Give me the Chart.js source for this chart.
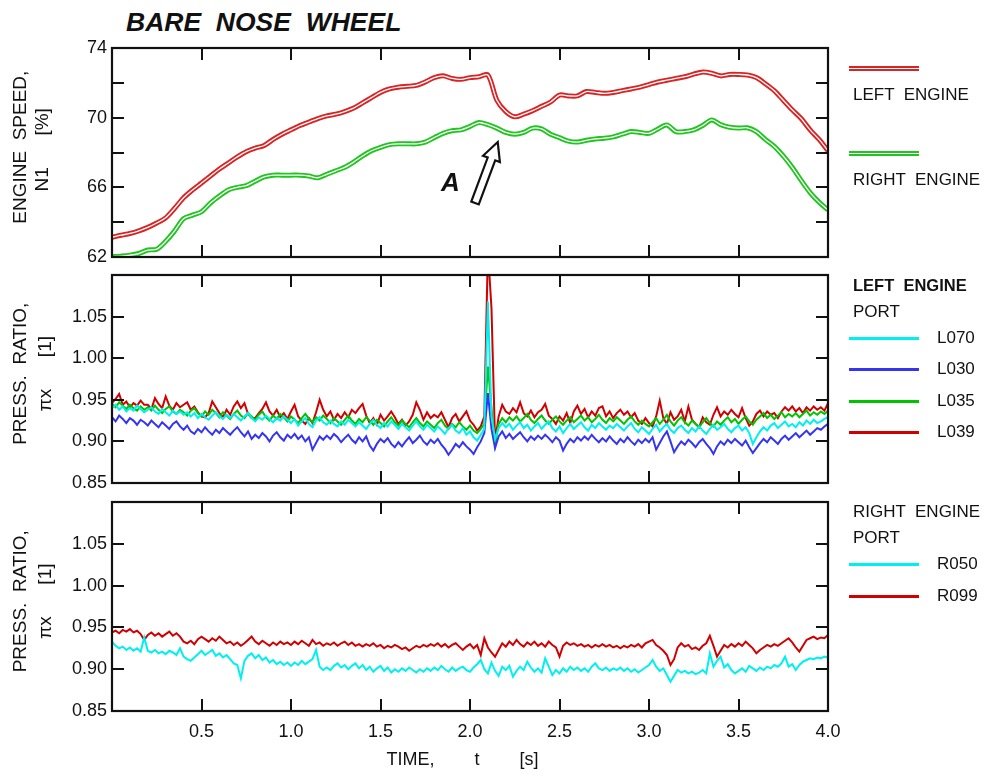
<!DOCTYPE html>
<html>
<head>
<meta charset="utf-8">
<title>Bare nose wheel</title>
<script src="https://cdn.jsdelivr.net/npm/chart.js@4.4.1/dist/chart.umd.min.js"></script>
<style>
  html, body { margin: 0; padding: 0; background: #fff; }
  #wrap { position: relative; width: 987px; height: 776px; overflow: hidden;
          font-family: 'Liberation Sans', Arial, sans-serif; color: #111; }
  #wrap canvas { position: absolute; left: 0; top: 0; }
  .txt { position: absolute; white-space: pre; line-height: 20px; font-size: 17px; }
  .sw { position: absolute; width: 70px; }
</style>
</head>
<body>
<div id="wrap">
  <div class="txt" style="left:126px; top:7px; line-height:30px; font-size:26.5px; font-weight:bold; font-style:italic;">BARE  NOSE  WHEEL</div>
  <canvas id="n1" width="987" height="776"></canvas>
  <canvas id="left" width="987" height="776"></canvas>
  <canvas id="right" width="987" height="776"></canvas>
</div>
<script>
// ---- data ----
const N1_STEP = 0.05;   // s between samples of engine speed
const P_STEP = 0.02;    // s between samples of pressure ratio

const n1Left = [
  63.13, 63.25, 63.35, 63.5, 63.7, 63.95, 64.25, 64.8, 65.4, 65.85,
  66.25, 66.65, 67.05, 67.4, 67.75, 68.05, 68.25, 68.4, 68.75, 69.05,
  69.3, 69.55, 69.75, 69.95, 70.1, 70.2, 70.35, 70.55, 70.85, 71.15,
  71.45, 71.65, 71.75, 71.8, 71.85, 72.05, 72.3, 72.4, 72.25, 72.2,
  72.3, 72.35, 72.45, 71.0, 70.35, 70.05, 70.2, 70.4, 70.65, 70.9,
  71.3, 71.25, 71.25, 71.5, 71.45, 71.4, 71.45, 71.55, 71.65, 71.75,
  71.9, 72.05, 72.15, 72.25, 72.35, 72.5, 72.62, 72.55, 72.4, 72.48,
  72.48, 72.45, 72.3, 71.95, 71.55, 71.0, 70.45, 69.95, 69.3, 68.75,
  68.1
];
const n1Right = [
  62.02, 62.05, 62.1, 62.2, 62.4, 62.45, 62.9, 63.5, 64.2, 64.4,
  64.6, 65.1, 65.5, 65.85, 66.0, 66.1, 66.35, 66.6, 66.7, 66.7,
  66.7, 66.7, 66.65, 66.55, 66.75, 66.95, 67.15, 67.45, 67.8, 68.1,
  68.3, 68.45, 68.5, 68.5, 68.5, 68.6, 68.85, 69.1, 69.25, 69.3,
  69.5, 69.72, 69.6, 69.4, 69.15, 69.05, 69.15, 69.4, 69.35, 69.05,
  68.85, 68.65, 68.6, 68.7, 68.78, 68.82, 68.9, 69.05, 69.2, 69.15,
  69.1, 69.35, 69.58, 69.2, 69.2, 69.3, 69.55, 69.87, 69.6, 69.45,
  69.4, 69.42, 69.2, 68.75, 68.35, 67.8, 67.15, 66.4, 65.7, 65.15,
  64.7
];

const pL070 = [
  0.940, 0.944, 0.938, 0.942, 0.936, 0.940, 0.937, 0.943, 0.939, 0.935,
  0.938, 0.941, 0.936, 0.933, 0.939, 0.935, 0.931, 0.937, 0.933, 0.936,
  0.932, 0.935, 0.930, 0.934, 0.928, 0.933, 0.929, 0.926, 0.931, 0.935,
  0.930, 0.927, 0.932, 0.928, 0.933, 0.929, 0.925, 0.930, 0.934, 0.928,
  0.924, 0.929, 0.926, 0.931, 0.927, 0.923, 0.928, 0.925, 0.930, 0.926,
  0.922, 0.927, 0.919, 0.924, 0.928, 0.921, 0.917, 0.925, 0.929, 0.923,
  0.920, 0.925, 0.921, 0.918, 0.924, 0.920, 0.926, 0.922, 0.918, 0.923,
  0.919, 0.915, 0.921, 0.926, 0.920, 0.916, 0.922, 0.918, 0.924, 0.920,
  0.915, 0.921, 0.917, 0.913, 0.919, 0.924, 0.918, 0.914, 0.920, 0.916,
  0.912, 0.918, 0.914, 0.909, 0.916, 0.920, 0.913, 0.910, 0.916, 0.908,
  0.912, 0.905, 0.901, 0.908, 0.915, 1.068, 0.930, 0.903, 0.916, 0.922,
  0.917, 0.921, 0.914, 0.919, 0.923, 0.916, 0.920, 0.913, 0.918, 0.922,
  0.915, 0.920, 0.924, 0.916, 0.912, 0.918, 0.910, 0.916, 0.921, 0.915,
  0.919, 0.923, 0.917, 0.913, 0.920, 0.916, 0.922, 0.918, 0.914, 0.919,
  0.916, 0.921, 0.917, 0.913, 0.918, 0.922, 0.915, 0.911, 0.917, 0.913,
  0.909, 0.915, 0.920, 0.912, 0.917, 0.921, 0.914, 0.910, 0.916, 0.919,
  0.914, 0.910, 0.916, 0.912, 0.918, 0.913, 0.909, 0.915, 0.920, 0.914,
  0.917, 0.921, 0.915, 0.911, 0.916, 0.919, 0.913, 0.917, 0.910, 0.897,
  0.905, 0.912, 0.917, 0.913, 0.919, 0.922, 0.916, 0.920, 0.924, 0.918,
  0.921, 0.917, 0.923, 0.919, 0.925, 0.921, 0.926, 0.922, 0.924, 0.927,
  0.929
];
const pL030 = [
  0.929, 0.924, 0.931, 0.927, 0.922, 0.928, 0.925, 0.920, 0.926, 0.923,
  0.919, 0.925, 0.921, 0.917, 0.923, 0.919, 0.915, 0.921, 0.924, 0.918,
  0.914, 0.919, 0.912, 0.909, 0.915, 0.911, 0.917, 0.912, 0.908, 0.914,
  0.910, 0.916, 0.912, 0.908, 0.913, 0.917, 0.911, 0.906, 0.912, 0.903,
  0.908, 0.904, 0.910, 0.906, 0.900, 0.907, 0.911, 0.905, 0.901, 0.908,
  0.904, 0.909, 0.903, 0.907, 0.900, 0.905, 0.890, 0.898, 0.906, 0.902,
  0.907, 0.903, 0.909, 0.905, 0.899, 0.904, 0.908, 0.902, 0.898, 0.905,
  0.900, 0.906, 0.895, 0.889, 0.897, 0.903, 0.899, 0.904, 0.897, 0.893,
  0.899, 0.894, 0.900, 0.905, 0.898, 0.902, 0.907, 0.900, 0.896, 0.902,
  0.898, 0.903, 0.896, 0.891, 0.884, 0.890, 0.897, 0.893, 0.899, 0.894,
  0.890, 0.885, 0.893, 0.900, 0.910, 0.958, 0.915, 0.892, 0.906, 0.912,
  0.904, 0.909, 0.903, 0.907, 0.911, 0.905, 0.900, 0.906, 0.902, 0.907,
  0.903, 0.908, 0.904, 0.899, 0.905, 0.901, 0.889, 0.897, 0.903, 0.899,
  0.905, 0.901, 0.906, 0.902, 0.908, 0.903, 0.899, 0.904, 0.900, 0.906,
  0.901, 0.897, 0.903, 0.899, 0.905, 0.900, 0.896, 0.902, 0.898, 0.903,
  0.899, 0.905, 0.890, 0.898, 0.906, 0.912, 0.900, 0.887, 0.894, 0.900,
  0.896, 0.902, 0.898, 0.893, 0.899, 0.903, 0.897, 0.892, 0.885, 0.894,
  0.900, 0.896, 0.902, 0.898, 0.903, 0.899, 0.895, 0.901, 0.893, 0.886,
  0.892, 0.898, 0.903, 0.899, 0.905, 0.901, 0.897, 0.903, 0.907, 0.902,
  0.906, 0.910, 0.905, 0.909, 0.913, 0.908, 0.912, 0.916, 0.914, 0.918,
  0.921
];
const pL035 = [
  0.945, 0.941, 0.947, 0.943, 0.939, 0.944, 0.940, 0.937, 0.942, 0.938,
  0.941, 0.937, 0.943, 0.938, 0.934, 0.939, 0.942, 0.936, 0.933, 0.938,
  0.935, 0.931, 0.937, 0.940, 0.934, 0.930, 0.936, 0.932, 0.938, 0.934,
  0.929, 0.935, 0.931, 0.927, 0.933, 0.937, 0.931, 0.928, 0.934, 0.930,
  0.926, 0.932, 0.936, 0.929, 0.925, 0.931, 0.927, 0.933, 0.929, 0.924,
  0.930, 0.926, 0.922, 0.928, 0.933, 0.927, 0.923, 0.929, 0.925, 0.931,
  0.927, 0.922, 0.928, 0.924, 0.920, 0.926, 0.931, 0.925, 0.921, 0.927,
  0.923, 0.929, 0.925, 0.920, 0.926, 0.922, 0.918, 0.924, 0.929, 0.923,
  0.919, 0.925, 0.921, 0.917, 0.923, 0.928, 0.922, 0.918, 0.924, 0.920,
  0.916, 0.922, 0.926, 0.919, 0.915, 0.921, 0.917, 0.923, 0.918, 0.914,
  0.919, 0.913, 0.910, 0.915, 0.921, 0.990, 0.940, 0.896, 0.921, 0.928,
  0.923, 0.929, 0.925, 0.930, 0.924, 0.928, 0.933, 0.926, 0.922, 0.927,
  0.931, 0.925, 0.921, 0.926, 0.930, 0.924, 0.920, 0.925, 0.929, 0.923,
  0.927, 0.931, 0.925, 0.929, 0.923, 0.927, 0.932, 0.926, 0.922, 0.928,
  0.924, 0.929, 0.925, 0.921, 0.926, 0.930, 0.924, 0.920, 0.925, 0.921,
  0.918, 0.923, 0.928, 0.921, 0.926, 0.932, 0.924, 0.919, 0.925, 0.929,
  0.923, 0.919, 0.925, 0.921, 0.917, 0.923, 0.928, 0.922, 0.918, 0.924,
  0.920, 0.925, 0.929, 0.923, 0.927, 0.921, 0.926, 0.930, 0.924, 0.920,
  0.926, 0.930, 0.934, 0.928, 0.932, 0.927, 0.931, 0.935, 0.929, 0.933,
  0.930, 0.934, 0.929, 0.933, 0.937, 0.931, 0.935, 0.932, 0.936, 0.933,
  0.937
];
const pL039 = [
  0.946, 0.951, 0.957, 0.944, 0.948, 0.941, 0.946, 0.943, 0.949, 0.944,
  0.944, 0.939, 0.952, 0.945, 0.940, 0.954, 0.943, 0.938, 0.946, 0.941,
  0.944, 0.947, 0.938, 0.942, 0.935, 0.930, 0.929, 0.934, 0.948, 0.941,
  0.934, 0.929, 0.938, 0.932, 0.942, 0.948, 0.940, 0.946, 0.933, 0.928,
  0.928, 0.934, 0.939, 0.947, 0.936, 0.931, 0.938, 0.929, 0.934, 0.927,
  0.936, 0.944, 0.930, 0.925, 0.921, 0.928, 0.922, 0.935, 0.950, 0.938,
  0.930, 0.936, 0.926, 0.933, 0.928, 0.935, 0.929, 0.938, 0.934, 0.940,
  0.945, 0.931, 0.922, 0.928, 0.920, 0.932, 0.925, 0.930, 0.936, 0.929,
  0.921, 0.926, 0.919, 0.924, 0.932, 0.947, 0.938, 0.926, 0.935, 0.928,
  0.932, 0.929, 0.935, 0.926, 0.917, 0.928, 0.933, 0.924, 0.930, 0.936,
  0.925, 0.920, 0.913, 0.918, 0.930, 1.130, 1.060, 0.900, 0.930, 0.944,
  0.936, 0.933, 0.940, 0.935, 0.947, 0.934, 0.930, 0.937, 0.929, 0.935,
  0.938, 0.945, 0.931, 0.927, 0.921, 0.930, 0.925, 0.934, 0.922, 0.936,
  0.943, 0.933, 0.939, 0.929, 0.936, 0.931, 0.940, 0.942, 0.930, 0.936,
  0.928, 0.934, 0.938, 0.932, 0.936, 0.929, 0.934, 0.925, 0.921, 0.928,
  0.922, 0.918, 0.930, 0.949, 0.928, 0.921, 0.935, 0.926, 0.930, 0.938,
  0.924, 0.942, 0.926, 0.921, 0.917, 0.929, 0.923, 0.920, 0.932, 0.941,
  0.930, 0.936, 0.932, 0.938, 0.933, 0.929, 0.940, 0.928, 0.919, 0.924,
  0.933, 0.937, 0.930, 0.936, 0.932, 0.934, 0.928, 0.936, 0.941, 0.937,
  0.942, 0.936, 0.940, 0.934, 0.941, 0.937, 0.942, 0.938, 0.941, 0.937,
  0.946
];
const pR050 = [
  0.933, 0.928, 0.925, 0.927, 0.923, 0.926, 0.922, 0.925, 0.921, 0.938,
  0.922, 0.920, 0.923, 0.919, 0.921, 0.918, 0.922, 0.920, 0.917, 0.925,
  0.915, 0.912, 0.910, 0.914, 0.918, 0.922, 0.917, 0.920, 0.923, 0.916,
  0.919, 0.914, 0.917, 0.912, 0.907, 0.905, 0.889, 0.910, 0.916, 0.919,
  0.913, 0.917, 0.911, 0.914, 0.908, 0.911, 0.906, 0.909, 0.905, 0.908,
  0.904, 0.908, 0.905, 0.910, 0.906, 0.909, 0.912, 0.923, 0.903, 0.899,
  0.902, 0.899, 0.904, 0.907, 0.902, 0.905, 0.900, 0.904, 0.907, 0.901,
  0.905, 0.899, 0.903, 0.897, 0.901, 0.904, 0.898, 0.902, 0.896, 0.900,
  0.897, 0.901, 0.898, 0.902, 0.899, 0.896, 0.900, 0.897, 0.901, 0.898,
  0.902, 0.899, 0.904, 0.900, 0.897, 0.902, 0.898, 0.901, 0.903, 0.899,
  0.897, 0.902, 0.906, 0.911, 0.900, 0.895, 0.908, 0.898, 0.892, 0.903,
  0.899, 0.904, 0.891, 0.898, 0.903, 0.899, 0.909, 0.902, 0.897, 0.901,
  0.896, 0.913, 0.903, 0.893, 0.899, 0.895, 0.901, 0.897, 0.903, 0.899,
  0.902, 0.898, 0.901, 0.897, 0.903, 0.907, 0.901, 0.899, 0.902, 0.898,
  0.901, 0.899, 0.902, 0.898, 0.901, 0.897, 0.900, 0.896, 0.899, 0.902,
  0.905, 0.911, 0.903, 0.898, 0.901, 0.893, 0.885, 0.892, 0.899, 0.896,
  0.898, 0.895, 0.897, 0.894, 0.896, 0.899, 0.895, 0.919, 0.903, 0.910,
  0.915, 0.902, 0.906, 0.899, 0.895, 0.898, 0.901, 0.897, 0.904, 0.901,
  0.898, 0.902, 0.899, 0.903, 0.901, 0.905, 0.903, 0.907, 0.915, 0.903,
  0.906, 0.899, 0.905, 0.909, 0.911, 0.913, 0.912, 0.914, 0.913, 0.915,
  0.914
];
const pR099 = [
  0.944, 0.946, 0.943, 0.947, 0.945, 0.948, 0.944, 0.946, 0.942, 0.935,
  0.941, 0.944, 0.940, 0.943, 0.939, 0.942, 0.945, 0.940, 0.943, 0.939,
  0.933, 0.931, 0.934, 0.930, 0.936, 0.939, 0.936, 0.933, 0.937, 0.934,
  0.939, 0.935, 0.931, 0.933, 0.929, 0.932, 0.928, 0.931, 0.935, 0.939,
  0.933, 0.930, 0.934, 0.931, 0.928, 0.932, 0.929, 0.933, 0.930, 0.932,
  0.929, 0.933, 0.930, 0.934, 0.931, 0.928, 0.935, 0.930, 0.932, 0.928,
  0.931, 0.929, 0.932, 0.928, 0.931, 0.933, 0.929, 0.932, 0.928, 0.930,
  0.927, 0.930, 0.928, 0.931, 0.927, 0.929, 0.925, 0.928, 0.926, 0.929,
  0.927, 0.924, 0.926, 0.922, 0.925, 0.928, 0.926, 0.929, 0.927, 0.930,
  0.928, 0.931, 0.927, 0.930, 0.926, 0.929, 0.931, 0.927, 0.923, 0.927,
  0.930, 0.925, 0.929, 0.917, 0.937, 0.926, 0.920, 0.915, 0.923, 0.931,
  0.927, 0.933, 0.929, 0.935, 0.930, 0.927, 0.932, 0.929, 0.933, 0.928,
  0.931, 0.927, 0.933, 0.929, 0.926, 0.915, 0.928, 0.932, 0.929, 0.931,
  0.928, 0.930, 0.927, 0.929, 0.926, 0.929, 0.927, 0.930, 0.927, 0.929,
  0.926, 0.928, 0.925, 0.928, 0.926, 0.929, 0.927, 0.930, 0.926, 0.931,
  0.933, 0.935, 0.929, 0.926, 0.922, 0.917, 0.905, 0.912, 0.926, 0.931,
  0.927, 0.929, 0.924, 0.926, 0.923, 0.928, 0.931, 0.940, 0.928, 0.915,
  0.922, 0.929, 0.926, 0.930, 0.927, 0.931, 0.928, 0.933, 0.929, 0.925,
  0.919, 0.923, 0.926, 0.929, 0.927, 0.930, 0.928, 0.931, 0.934, 0.937,
  0.932, 0.926, 0.921, 0.928, 0.935, 0.937, 0.939, 0.936, 0.938, 0.937,
  0.941
];

const engineNames = ['LEFT  ENGINE', 'RIGHT  ENGINE'];
const leftPorts = ['L070', 'L030', 'L035', 'L039'];
const rightPorts = ['R050', 'R099'];

// annotation "A" and its arrow, in data units (t, N1)
const markA = { t: 1.89, v: 66.2 };
const arrowTail = { t: 2.028, v: 65.1 };
const arrowTip = { t: 2.155, v: 68.6 };

// ---- styles ----
const RED = '#d00000', GREEN = '#00c400', CYAN = '#00f0f0', BLUE = '#3434f2';
const ENG_RED = '#d82424', ENG_GREEN = '#22c422';
const INK = '#111';
const FONT = "'Liberation Sans', Arial, sans-serif";
Chart.defaults.font.family = FONT;
Chart.defaults.color = INK;

const toXY = (vals, step) => vals.map((v, i) => ({ x: +(i * step).toFixed(3), y: v }));

const TICK_LEN = 12;
const frame = {
  id: 'frame',
  afterDatasetsDraw(chart) {
    const { ctx, chartArea: a, scales: { x, y } } = chart;
    ctx.save();
    ctx.strokeStyle = INK;
    ctx.lineWidth = 2;
    ctx.beginPath();
    x.ticks.forEach(tk => {
      if (tk.value <= x.min || tk.value >= x.max) return;
      const px = Math.round(x.getPixelForValue(tk.value));
      ctx.moveTo(px, a.top); ctx.lineTo(px, a.top + TICK_LEN);
      ctx.moveTo(px, a.bottom); ctx.lineTo(px, a.bottom - TICK_LEN);
    });
    y.ticks.forEach(tk => {
      if (tk.value <= y.min + 1e-9 || tk.value >= y.max - 1e-9) return;
      const py = Math.round(y.getPixelForValue(tk.value));
      ctx.moveTo(a.left, py); ctx.lineTo(a.left + TICK_LEN, py);
      ctx.moveTo(a.right, py); ctx.lineTo(a.right - TICK_LEN, py);
    });
    ctx.stroke();
    ctx.lineWidth = 2.2;
    ctx.strokeRect(a.left, a.top, a.right - a.left, a.bottom - a.top);
    ctx.restore();
  }
};

const arrowMark = {
  id: 'arrowMark',
  afterDatasetsDraw(chart) {
    const { ctx, scales: { x, y } } = chart;
    const x0 = x.getPixelForValue(arrowTail.t), y0 = y.getPixelForValue(arrowTail.v);
    const x1 = x.getPixelForValue(arrowTip.t), y1 = y.getPixelForValue(arrowTip.v);
    const len = Math.hypot(x1 - x0, y1 - y0);
    const head = 18, hw = 9, sw = 4;
    ctx.save();
    ctx.translate(x0, y0);
    ctx.rotate(Math.atan2(y1 - y0, x1 - x0));
    ctx.beginPath();
    ctx.moveTo(0, -sw);
    ctx.lineTo(len - head, -sw);
    ctx.lineTo(len - head, -hw);
    ctx.lineTo(len, 0);
    ctx.lineTo(len - head, hw);
    ctx.lineTo(len - head, sw);
    ctx.lineTo(0, sw);
    ctx.closePath();
    ctx.fillStyle = '#fff';
    ctx.fill();
    ctx.lineWidth = 2.2;
    ctx.strokeStyle = INK;
    ctx.stroke();
    ctx.restore();

    ctx.save();
    ctx.font = `italic bold 26px ${FONT}`;
    ctx.fillStyle = INK;
    ctx.textAlign = 'center';
    ctx.textBaseline = 'middle';
    ctx.fillText('A', x.getPixelForValue(markA.t), y.getPixelForValue(markA.v));
    ctx.restore();
  }
};

function yAxis(min, max, step, label, tickSize, title, titlePad, lh) {
  return {
    type: 'linear', min, max,
    afterFit: s => { s.width = 112; },
    grid: { display: false, drawTicks: false },
    border: { display: false },
    ticks: { stepSize: step, padding: 5, font: { size: tickSize }, color: INK, callback: label },
    title: { display: true, text: title, color: INK,
             font: { size: 19, lineHeight: lh + 'px' }, padding: { top: titlePad, bottom: 0 } }
  };
}

function xAxis(show) {
  return {
    type: 'linear', min: 0, max: 4,
    display: show,
    afterFit: s => { if (show) s.height = 65; },
    grid: { display: false, drawTicks: false },
    border: { display: false },
    ticks: { stepSize: 0.5, padding: 10, font: { size: 18 }, color: INK, autoSkip: false, maxRotation: 0,
             callback: v => (v === 0 ? '' : v.toFixed(1)) },
    title: { display: show, text: 'TIME,        t        [s]   ', color: INK,
             font: { size: 18 }, padding: { top: 0, bottom: 5 } }
  };
}

function panel(id, datasets, y, x, padding, extra) {
  return new Chart(document.getElementById(id), {
    type: 'line',
    data: { datasets },
    options: {
      responsive: false, animation: false, events: [],
      layout: { padding },
      plugins: { legend: { display: false }, tooltip: { enabled: false } },
      elements: { point: { radius: 0 } },
      scales: { x, y }
    },
    plugins: [frame].concat(extra || [])
  });
}

const pressLabel = v => (v > 1.07 ? '' : v.toFixed(2));
const pressTitle = ['  PRESS.  RATIO,', '  \u03c0x      [1]'];

// panel 1: engine speed (double lines: coloured stroke with thin white core)
const dbl = (vals, color) => [
  { data: toXY(vals, N1_STEP), borderColor: '#fff', borderWidth: 1.3, tension: 0.3 },
  { data: toXY(vals, N1_STEP), borderColor: color, borderWidth: 5, tension: 0.3 }
];
panel('n1',
  dbl(n1Left, ENG_RED).concat(dbl(n1Right, ENG_GREEN)),
  yAxis(62, 74, 2, v => ((v - 62) % 4 === 0 ? v : ''), 18, ['  ENGINE  SPEED,', ' N1      [%]'], 10, 22),
  xAxis(false),
  { top: 48, bottom: 519, left: 0, right: 159 },
  [arrowMark]);

// panel 2: left engine ports
const leftSeries = [pL070, pL030, pL035, pL039];
const leftColors = [CYAN, BLUE, GREEN, RED];
panel('left',
  leftSeries.map((s, i) => ({ label: leftPorts[i], data: toXY(s, P_STEP), borderColor: leftColors[i], borderWidth: 2, tension: 0 })),
  yAxis(0.85, 1.10, 0.05, pressLabel, 18, pressTitle, 8, 25),
  xAxis(false),
  { top: 275, bottom: 293, left: 0, right: 159 });

// panel 3: right engine ports
const rightSeries = [pR050, pR099];
const rightColors = [CYAN, RED];
panel('right',
  rightSeries.map((s, i) => ({ label: rightPorts[i], data: toXY(s, P_STEP), borderColor: rightColors[i], borderWidth: 2, tension: 0 })),
  yAxis(0.85, 1.10, 0.05, pressLabel, 18, pressTitle, 8, 25),
  xAxis(true),
  { top: 502, bottom: 0, left: 0, right: 159 });

// ---- legends on the right ----
const wrap = document.getElementById('wrap');
function addText(txt, left, cy, opts) {
  const d = document.createElement('div');
  d.className = 'txt';
  d.textContent = txt;
  d.style.left = left + 'px';
  d.style.top = (cy - 10) + 'px';
  if (opts && opts.bold) d.style.fontWeight = 'bold';
  if (opts && opts.size) d.style.fontSize = opts.size + 'px';
  wrap.appendChild(d);
}
function addSwatch(cy, color, double) {
  const d = document.createElement('div');
  d.className = 'sw';
  d.style.left = '849px';
  if (double) {
    d.style.top = (cy - 2.5) + 'px';
    d.style.height = '1px';
    d.style.borderTop = '2px solid ' + color;
    d.style.borderBottom = '2px solid ' + color;
  } else {
    d.style.top = (cy - 1.5) + 'px';
    d.style.height = '3px';
    d.style.background = color;
  }
  wrap.appendChild(d);
}

addSwatch(68, ENG_RED, true);
addText(engineNames[0], 853, 95);
addSwatch(153, ENG_GREEN, true);
addText(engineNames[1], 853, 180);

addText(engineNames[0], 853, 285, { bold: true, size: 16.5 });
addText('PORT', 853, 312);
[338, 369, 401, 432].forEach((cy, i) => {
  addSwatch(cy, leftColors[i], false);
  addText(leftPorts[i], 937, cy);
});

addText(engineNames[1], 853, 512);
addText('PORT', 853, 538);
[564, 596].forEach((cy, i) => {
  addSwatch(cy, rightColors[i], false);
  addText(rightPorts[i], 937, cy);
});
</script>
</body>
</html>
